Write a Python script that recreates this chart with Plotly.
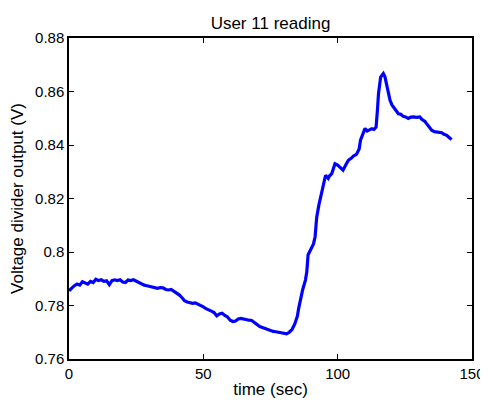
import plotly.graph_objects as go

title_text = "User 11 reading"
x_label = "time (sec)"
y_label = "Voltage divider output (V)"

time_sec = [0, 1, 2, 3, 4, 5, 6, 7, 8, 9, 10, 11, 12, 13, 14, 15, 16, 17, 18, 19,
            20, 21, 22, 23, 24, 25, 26, 27, 28, 29, 30, 31, 32, 33, 34, 35, 36, 37, 38, 39,
            40, 41, 42, 43, 44, 45, 46, 47, 48, 49, 50, 51, 52, 53, 54, 55, 56, 57, 58, 59,
            60, 61, 62, 63, 64, 65, 66, 67, 68, 69, 70, 71, 72, 73, 74, 75, 76, 77, 78, 79,
            80, 81, 82, 83, 84, 85, 85.5, 86, 87, 88, 88.5, 89, 90, 91, 91.6, 92.2, 93, 94, 95, 95.5,
            96.5, 97, 97.8, 98.5, 99, 100, 101, 102, 103, 104, 105, 106, 107, 108, 108.5, 109.5, 110.2, 111, 111.5, 112.7,
            113.5, 114.3, 114.8, 115.2, 116, 117, 117.6, 118.2, 119, 119.5, 120.2, 120.7, 121.5, 122.6, 123.5, 124.4, 125.3, 126.3, 127.2, 128.2,
            129.4, 130.6, 131.3, 131.9, 132.5, 133.1, 134, 135, 136, 136.8, 137.7, 138.7, 139.6, 140.6, 141.5, 142.4]

voltage = [0.7855, 0.7865, 0.7874, 0.7880, 0.7876, 0.7889, 0.7885, 0.7880, 0.7890, 0.7886,
           0.7898, 0.7893, 0.7896, 0.7890, 0.7892, 0.7878, 0.7893, 0.7896, 0.7893, 0.7896,
           0.7888, 0.7886, 0.7895, 0.7893, 0.7896, 0.7891, 0.7886, 0.7880, 0.7876, 0.7874,
           0.7872, 0.7870, 0.7866, 0.7864, 0.7867, 0.7866, 0.7860, 0.7858, 0.7860, 0.7854,
           0.7848, 0.7840, 0.7830, 0.7818, 0.7813, 0.7810, 0.7808, 0.7810, 0.7806, 0.7800,
           0.7795, 0.7788, 0.7782, 0.7779, 0.7774, 0.7761, 0.7768, 0.7771, 0.7763, 0.7757,
           0.7745, 0.7740, 0.7742, 0.7750, 0.7752, 0.7749, 0.7748, 0.7745, 0.7744, 0.7737,
           0.7728, 0.7721, 0.7718, 0.7714, 0.7710, 0.7708, 0.7703, 0.7702, 0.7700, 0.7696,
           0.7693, 0.7694, 0.7700, 0.7710, 0.7730, 0.7760, 0.7790, 0.7815, 0.7860, 0.7895,
           0.7925, 0.7990, 0.8010, 0.8030, 0.8057, 0.8130, 0.8175, 0.8225, 0.8275, 0.8287,
           0.8275, 0.8285, 0.8293, 0.8315, 0.8330, 0.8325, 0.8315, 0.8306, 0.8325, 0.8343,
           0.8350, 0.8360, 0.8365, 0.8385, 0.8418, 0.8445, 0.8462, 0.8452, 0.8455, 0.8461,
           0.8458, 0.8467, 0.8530, 0.8592, 0.8654, 0.8667, 0.8655, 0.8629, 0.8590, 0.8567,
           0.8550, 0.8542, 0.8530, 0.8517, 0.8515, 0.8507, 0.8505, 0.8499, 0.8504, 0.8505,
           0.8503, 0.8505, 0.8496, 0.8492, 0.8488, 0.8480, 0.8470, 0.8455, 0.8450, 0.8449,
           0.8445, 0.8446, 0.8440, 0.8436, 0.8428, 0.8420]

x_ticks = [0, 50, 100, 150]
x_tick_labels = ["0", "50", "100", "150"]
y_ticks = [0.76, 0.78, 0.8, 0.82, 0.84, 0.86, 0.88]
y_tick_labels = ["0.76", "0.78", "0.8", "0.82", "0.84", "0.86", "0.88"]

font_family = "Liberation Sans, Arial, Helvetica, sans-serif"

# The page body has an 8px default margin, so the figure is 8px smaller
# and offset; margins are reduced accordingly.
FIG_W, FIG_H = 480, 395

fig = go.Figure()
fig.add_trace(go.Scatter(x=time_sec, y=voltage, mode="lines",
                         line=dict(color="#0000ff", width=3.2), showlegend=False,
                         hoverinfo="skip"))

axis_common = dict(showgrid=False, zeroline=False, showline=True, linecolor="black",
                   linewidth=1.5, mirror="ticks", ticks="inside", ticklen=5,
                   tickcolor="black", tickwidth=1, automargin=False,
                   tickfont=dict(family=font_family, size=15, color="black"))

fig.update_xaxes(range=[0, 150], tickvals=x_ticks, ticktext=x_tick_labels,
                 title=dict(text=x_label, font=dict(family=font_family, size=17, color="black"),
                            standoff=2),
                 **axis_common)
fig.update_yaxes(range=[0.76, 0.88], tickvals=y_ticks, ticktext=y_tick_labels,
                 title=dict(text=y_label, font=dict(family=font_family, size=17, color="black"),
                            standoff=8),
                 **axis_common)

fig.update_layout(
    width=FIG_W, height=FIG_H,
    margin=dict(l=61, r=16, t=30, b=44),
    paper_bgcolor="white", plot_bgcolor="white",
    title=dict(text=title_text, x=0.5, xref="paper", xanchor="center",
               y=1 - 15 / FIG_H, yref="container", yanchor="middle",
               font=dict(family=font_family, size=17, color="black")),
    font=dict(family=font_family, color="black"),
)

fig.write_html("out.html")
